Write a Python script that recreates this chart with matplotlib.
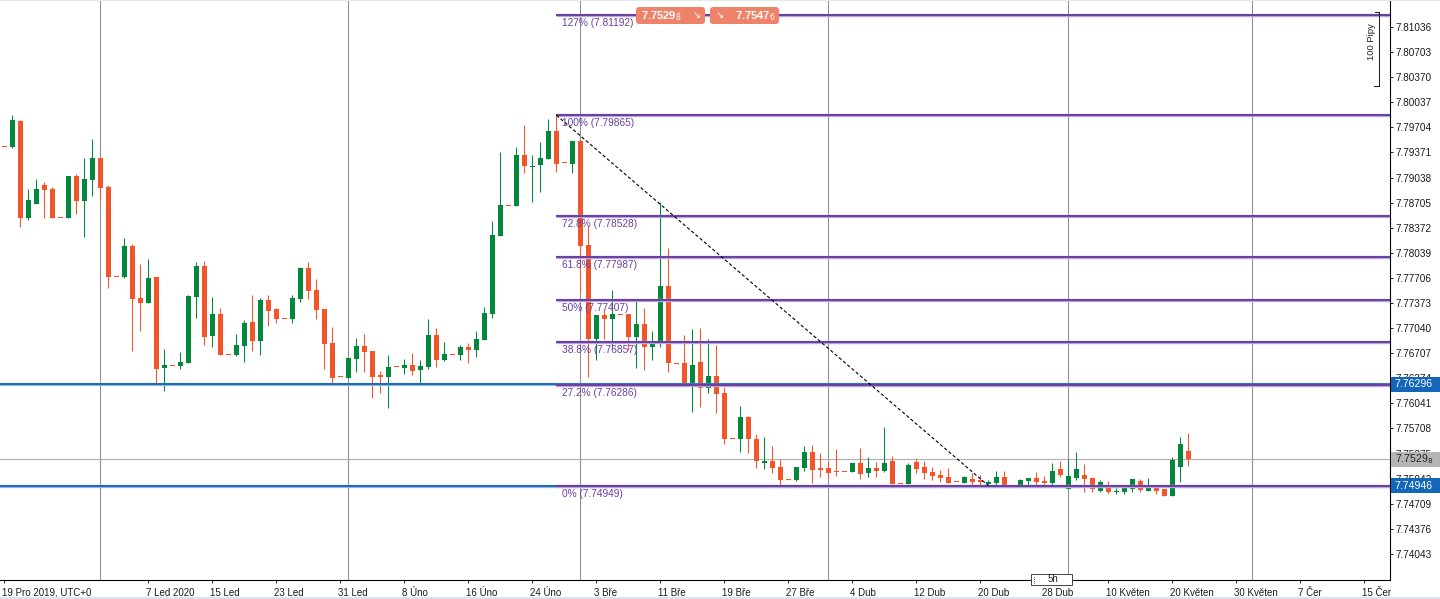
import numpy as np
import matplotlib
matplotlib.use("Agg")
import matplotlib.pyplot as plt
from matplotlib.patches import Rectangle, FancyBboxPatch
from matplotlib.lines import Line2D
from matplotlib.transforms import IdentityTransform, blended_transform_factory, ScaledTranslation

plt.rcParams['font.family'] = ['Liberation Sans', 'DejaVu Sans']

# denni svicky USD/HKD, 19.12.2019 - 21.5.2020
opens = [
    7.79453, 7.79447, 7.79788, 7.78505, 7.78687, 7.78939, 7.78886, 7.78510, 7.78505, 7.79059,
    7.78731, 7.79005, 7.79297, 7.78913, 7.77728, 7.77722, 7.78130, 7.77440, 7.77373, 7.77718,
    7.76511, 7.76547, 7.76537, 7.76577, 7.77453, 7.77864, 7.76935, 7.77227, 7.76692, 7.76683,
    7.76803, 7.77121, 7.76869, 7.77413, 7.77294, 7.77170, 7.77161, 7.77426, 7.77838, 7.77546,
    7.77294, 7.76842, 7.76391, 7.76382, 7.76630, 7.76803, 7.76736, 7.76418, 7.76395, 7.76524,
    7.76515, 7.76550, 7.76488, 7.76524, 7.76949, 7.76617, 7.76692, 7.76683, 7.76789, 7.76750,
    7.76882, 7.77231, 7.78262, 7.78670, 7.78660, 7.79337, 7.79191, 7.79204, 7.79284, 7.79656,
    7.79231, 7.79218, 7.79523, 7.78143, 7.76896, 7.77214, 7.77161, 7.77227, 7.77227, 7.76922,
    7.77095, 7.76793, 7.76869, 7.77599, 7.76573, 7.76573, 7.76312, 7.76590, 7.76239, 7.76405,
    7.76183, 7.75578, 7.75573, 7.75860, 7.75573, 7.75254, 7.75281, 7.75201, 7.75034, 7.75028,
    7.75188, 7.75392, 7.75188, 7.75188, 7.75140, 7.75140, 7.75135, 7.75246, 7.75121, 7.75184,
    7.75148, 7.75277, 7.74981, 7.74971, 7.75263, 7.75193, 7.75131, 7.75091, 7.75064, 7.74998,
    7.74989, 7.75038, 7.75020, 7.74975, 7.74985, 7.75064, 7.74949, 7.74945, 7.75015, 7.75047,
    7.75011, 7.74989, 7.75166, 7.74909, 7.75047, 7.75091, 7.75051, 7.74882, 7.74945, 7.74861,
    7.74869, 7.74901, 7.75011, 7.74882, 7.74928, 7.74909, 7.74812, 7.75201, 7.75409,
]
highs = [
    7.79453, 7.79868, 7.79802, 7.78882, 7.79015, 7.78975, 7.78917, 7.78510, 7.79059, 7.79085,
    7.79293, 7.79546, 7.79297, 7.78939, 7.77728, 7.78236, 7.78156, 7.77891, 7.77953, 7.77718,
    7.76763, 7.76547, 7.76723, 7.77479, 7.77917, 7.77931, 7.77453, 7.77307, 7.76692, 7.76962,
    7.77148, 7.77479, 7.77440, 7.77479, 7.77307, 7.77170, 7.77479, 7.77855, 7.77917, 7.77692,
    7.77294, 7.77055, 7.76391, 7.76643, 7.76909, 7.76962, 7.76736, 7.76471, 7.76683, 7.76524,
    7.76626, 7.76710, 7.76617, 7.77161, 7.77038, 7.76856, 7.76692, 7.76816, 7.76842, 7.77002,
    7.77320, 7.78461, 7.79373, 7.78670, 7.79439, 7.79735, 7.79337, 7.79506, 7.79815, 7.79865,
    7.79231, 7.79523, 7.79523, 7.78395, 7.77214, 7.77280, 7.77546, 7.77227, 7.77227, 7.77426,
    7.77307, 7.77002, 7.78713, 7.78103, 7.76573, 7.76945, 7.77024, 7.77038, 7.76893, 7.76809,
    7.76263, 7.75578, 7.76002, 7.75874, 7.75631, 7.75591, 7.75472, 7.75299, 7.75034, 7.75197,
    7.75472, 7.75485, 7.75379, 7.75263, 7.75432, 7.75140, 7.75246, 7.75445, 7.75326, 7.75267,
    7.75734, 7.75336, 7.74981, 7.75254, 7.75312, 7.75277, 7.75201, 7.75153, 7.75180, 7.74998,
    7.75077, 7.75113, 7.75091, 7.75024, 7.75144, 7.75144, 7.74949, 7.75034, 7.75047, 7.75127,
    7.75077, 7.75246, 7.75277, 7.75307, 7.75392, 7.75233, 7.75051, 7.75024, 7.75011, 7.74914,
    7.74945, 7.75038, 7.75038, 7.75047, 7.74958, 7.74909, 7.75326, 7.75591, 7.75648,
]
lows = [
    7.79453, 7.79426, 7.78386, 7.78475, 7.78687, 7.78505, 7.78505, 7.78510, 7.78505, 7.78550,
    7.78245, 7.78797, 7.78753, 7.77576, 7.77728, 7.77709, 7.76740, 7.77006, 7.77373, 7.76316,
    7.76209, 7.76547, 7.76497, 7.76577, 7.77170, 7.76816, 7.76789, 7.76683, 7.76692, 7.76670,
    7.76586, 7.76736, 7.76683, 7.77068, 7.77108, 7.77170, 7.77104, 7.77387, 7.77426, 7.77161,
    7.76497, 7.76294, 7.76391, 7.76382, 7.76454, 7.76454, 7.76109, 7.76175, 7.75976, 7.76524,
    7.76427, 7.76418, 7.76294, 7.76493, 7.76528, 7.76604, 7.76692, 7.76617, 7.76573, 7.76653,
    7.76882, 7.77178, 7.78262, 7.78670, 7.78660, 7.79102, 7.78709, 7.78846, 7.79284, 7.79112,
    7.79231, 7.79094, 7.77519, 7.76395, 7.76617, 7.76896, 7.76772, 7.77227, 7.76750, 7.76507,
    7.76484, 7.76617, 7.76793, 7.76454, 7.76573, 7.76294, 7.75923, 7.75993, 7.76175, 7.75910,
    7.75498, 7.75578, 7.75392, 7.75379, 7.75180, 7.75166, 7.75113, 7.74954, 7.75034, 7.75015,
    7.75148, 7.74981, 7.75068, 7.75051, 7.75081, 7.75140, 7.75135, 7.75042, 7.75068, 7.75068,
    7.75135, 7.74971, 7.74981, 7.74971, 7.75113, 7.75034, 7.75024, 7.75002, 7.74989, 7.74998,
    7.74989, 7.74958, 7.74954, 7.74945, 7.74954, 7.74949, 7.74949, 7.74945, 7.74945, 7.74945,
    7.74945, 7.74958, 7.75068, 7.74909, 7.75024, 7.74869, 7.74869, 7.74869, 7.74839, 7.74843,
    7.74835, 7.74869, 7.74869, 7.74882, 7.74839, 7.74812, 7.74812, 7.75002, 7.75210,
]
closes = [
    7.79453, 7.79802, 7.78505, 7.78740, 7.78886, 7.78873, 7.78505, 7.78510, 7.79059, 7.78731,
    7.79019, 7.79297, 7.78899, 7.77722, 7.77728, 7.78130, 7.77426, 7.77373, 7.77705, 7.76497,
    7.76550, 7.76547, 7.76590, 7.77466, 7.77864, 7.76922, 7.77227, 7.76683, 7.76692, 7.76816,
    7.77108, 7.76869, 7.77413, 7.77267, 7.77161, 7.77170, 7.77440, 7.77838, 7.77532, 7.77280,
    7.76829, 7.76382, 7.76391, 7.76643, 7.76803, 7.76723, 7.76395, 7.76391, 7.76524, 7.76524,
    7.76550, 7.76475, 7.76537, 7.76949, 7.76617, 7.76696, 7.76692, 7.76789, 7.76750, 7.76896,
    7.77241, 7.78276, 7.78674, 7.78670, 7.79337, 7.79191, 7.79204, 7.79297, 7.79656, 7.79218,
    7.79231, 7.79523, 7.78134, 7.76896, 7.77214, 7.77161, 7.77227, 7.77227, 7.76922, 7.77095,
    7.76793, 7.76842, 7.77599, 7.76573, 7.76573, 7.76312, 7.76550, 7.76239, 7.76405, 7.76159,
    7.75573, 7.75578, 7.75860, 7.75573, 7.75273, 7.75281, 7.75188, 7.75028, 7.75034, 7.75197,
    7.75392, 7.75161, 7.75161, 7.75121, 7.75131, 7.75140, 7.75246, 7.75108, 7.75184, 7.75148,
    7.75253, 7.74971, 7.74981, 7.75223, 7.75170, 7.75121, 7.75081, 7.75055, 7.74989, 7.74998,
    7.75064, 7.75002, 7.74998, 7.75002, 7.75064, 7.74949, 7.74949, 7.75020, 7.75047, 7.75002,
    7.74989, 7.75144, 7.75091, 7.75077, 7.75170, 7.75038, 7.74901, 7.74998, 7.74869, 7.74882,
    7.74928, 7.75038, 7.74896, 7.74928, 7.74882, 7.74812, 7.75286, 7.75506, 7.75298,
]

fib_names = ['127%', '100%', '72.8%', '61.8%', '50%', '38.8%', '27.2%', '0%']
fib_levels = [7.81192, 7.79865, 7.78528, 7.77987, 7.77407, 7.76857, 7.76286, 7.74949]
fib_start, fib_end = 69, 123          # svicka maxima / minima
blue_levels = [7.76296, 7.74946]
bid, ask = 7.75298, 7.75476

price_ticks = [7.81036, 7.80703, 7.80370, 7.80037, 7.79704, 7.79371, 7.79038, 7.78705,
               7.78372, 7.78039, 7.77706, 7.77373, 7.77040, 7.76707, 7.76374, 7.76041,
               7.75708, 7.75375, 7.75042, 7.74709, 7.74376, 7.74043]
date_labels = ['19 Pro 2019, UTC+0', '7 Led 2020', '15 Led', '23 Led', '31 Led', '8 Úno',
               '16 Úno', '24 Úno', '3 Bře', '11 Bře', '19 Bře', '27 Bře', '4 Dub', '12 Dub',
               '20 Dub', '28 Dub', '10 Květen', '20 Květen', '30 Květen', '7 Čer', '15 Čer']
date_bars = [0, 18, 26, 34, 42, 50, 58, 66, 74, 82, 90, 98, 106, 114, 122, 130, 138, 146,
             154, 162, 170]
month_bars = [12, 43, 72, 103, 133, 156]   # prelomy mesicu

GREEN = '#02873d'
ORANGE = '#f1552a'
FIB = '#6a3fa3'

W, H = 1440, 599
fig = plt.figure(figsize=(W / 100, H / 100), dpi=100)
ax = fig.add_axes([0, 19 / H, 1390 / W, 580 / H])
ymin, ymax = 7.73697, 7.81394
ax.set_xlim(-0.54, 173.2)
ax.set_ylim(ymin, ymax)
PX = (ymax - ymin) / 580

# mesicni mrizka
for b in month_bars:
    ax.axvline(b, color='#8e8e8e', lw=0.75, zorder=1)

# svicky
o, h, l, c = map(np.array, (opens, highs, lows, closes))
idx = np.arange(len(o))
col = np.where(c > o, GREEN, ORANGE)
ax.vlines(idx, l, h, colors=col, lw=0.75, zorder=3)
bot = np.minimum(o, c)
ht = np.abs(c - o)
flat = ht < PX
bot = np.where(flat, bot - PX * 0.5, bot)
ht = np.where(flat, PX, ht)
ax.bar(idx, ht, bottom=bot, width=0.62, color=col, linewidth=0, zorder=3)

# aktualni cena
ax.axhline(bid, color='#b0b0b0', lw=0.8, zorder=2)

# modre urovne
for v in blue_levels:
    ax.axhline(v, color='#8dbbe6', lw=2.3, zorder=4)
    ax.axhline(v, color='#1a62b0', lw=1.3, zorder=4)

# fibonacci
for name, lev in zip(fib_names, fib_levels):
    ax.hlines(lev, fib_start, 173.2, color='#b9a5d9', lw=2.4, zorder=5)
    ax.hlines(lev, fib_start, 173.2, color=FIB, lw=1.4, zorder=5)
    ax.annotate('%s (%.5f)' % (name, lev), (fib_start, lev), xytext=(4.3, -2.2),
                textcoords='offset points', fontsize=7.3, color=FIB, ha='left', va='top',
                zorder=6, annotation_clip=False)
ax.plot([fib_start, fib_end], [fib_levels[1], fib_levels[-1]], color='black', lw=0.8,
        ls=(0, (3, 2)), zorder=6)

# osy
for s in ['top', 'left']:
    ax.spines[s].set_visible(False)
for s in ['right', 'bottom']:
    ax.spines[s].set_linewidth(0.8)
    ax.spines[s].set_color('black')
ax.yaxis.tick_right()
ax.set_yticks(price_ticks, ['%.5f' % v for v in price_ticks])
ax.tick_params(axis='y', length=2.5, width=0.7, pad=1.5, labelsize=7.2, colors='#1a1a1a')
ax.set_xticks(date_bars, date_labels)
ax.tick_params(axis='x', length=2.5, width=0.7, pad=3, labelsize=7.0, colors='#1a1a1a')
shift = ScaledTranslation(-0.02, 0, fig.dpi_scale_trans)
for lbl in ax.get_xticklabels():
    lbl.set_horizontalalignment('left')
    lbl.set_transform(lbl.get_transform() + shift)

# cenove stitky na ose
tr = blended_transform_factory(ax.transAxes, ax.transData)


def price_box(val, txt, fc, tc):
    ax.add_patch(Rectangle((1.0008, val - 7.5 * PX), 0.036, 15 * PX, transform=tr, fc=fc,
                           ec='none', clip_on=False, zorder=7))
    ax.text(1.0033, val, txt, transform=tr, ha='left', va='center', color=tc, fontsize=7.6,
            clip_on=False, zorder=8)


price_box(blue_levels[0], '%.5f' % blue_levels[0], '#1467b8', 'white')
price_box(bid, '%.4f$_{%s}$' % (bid - 0.00008, '8'), '#b5b5b5', '#222222')
price_box(blue_levels[1], '%.5f' % blue_levels[1], '#1467b8', 'white')

# panel obchodovani nahore (pixely)
ID = IdentityTransform()


def pbox(x0, y0, x1, y1, fc, ec='none', lw=0, r=3):
    p = FancyBboxPatch((x0, H - y1), x1 - x0, y1 - y0,
                       boxstyle='round,pad=0,rounding_size=%g' % r, transform=ID,
                       fc=fc, ec=ec, lw=lw)
    fig.add_artist(p)


def ptext(x, y, s, **kw):
    fig.text(x, H - y, s, transform=ID, **kw)


pbox(636, 7, 705, 24, '#ef8369')
pbox(710, 7, 779, 24, '#ef8369')
ptext(641, 16, '7.7529$_{8}$', color='white', fontsize=8, fontweight='bold', va='center')
ptext(697, 15.5, '↘', color='white', fontsize=7, va='center', ha='center')
ptext(720, 15.5, '↘', color='white', fontsize=7, va='center', ha='center')
ptext(735, 16, '7.7547$_{6}$', color='white', fontsize=8, fontweight='bold', va='center')

# meritko 100 pipu
for seg in [((1375, 1379), (12, 12)), ((1379, 1379), (12, 86)), ((1374, 1379), (86, 86))]:
    fig.add_artist(Line2D(seg[0], [H - y for y in seg[1]], transform=ID, color='#222222',
                          lw=0.75))
ptext(1372, 42, '100 Pipy', rotation=90, ha='center', va='center', fontsize=6.8,
      color='#222222')

# widget 5h
fig.add_artist(Rectangle((1031, H - 585), 41, 11, transform=ID, fc='white', ec='#444444',
                         lw=0.7))
fig.add_artist(Line2D([1034, 1034], [H - 583, H - 576], transform=ID, color='#555555',
                      lw=0.8, ls=(0, (0.8, 0.8))))
ptext(1053, 579.5, '5h', ha='center', va='center', fontsize=7, color='#222222')

# okraje
fig.add_artist(Rectangle((0, 0), W, 2, transform=ID, fc='#dde3ea', ec='none'))
fig.add_artist(Rectangle((0, H - 1), W, 1, transform=ID, fc='#e3e7eb', ec='none'))

fig.savefig('out.png', dpi=100)
